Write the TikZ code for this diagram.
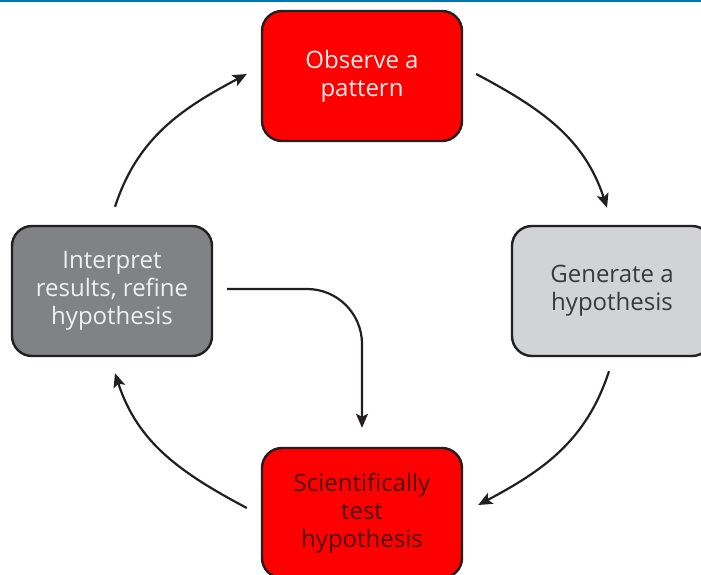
\documentclass[tikz,border=0pt]{standalone}
\usepackage{fontspec}
\setmainfont{Open Sans}
\usepackage{xcolor}
\usepackage{tikz}
\usetikzlibrary{arrows.meta,calc}
\definecolor{cyclered}{HTML}{FF0000}
\definecolor{cyclelight}{HTML}{D1D3D4}
\definecolor{cycledark}{HTML}{808285}
\definecolor{cycleline}{HTML}{231F20}
\definecolor{cycletextdark}{HTML}{3A3A3A}
\definecolor{cycletextred}{HTML}{4A1416}
\definecolor{cyclerule}{HTML}{0077A8}

\begin{document}
\begin{tikzpicture}[
  x=1pt, y=1pt,
  font=\fontsize{24}{28}\selectfont,
  stage/.style={draw=cycleline, line width=2.4pt, rounded corners=20pt, align=center,
                minimum width=200pt, minimum height=130pt, inner sep=0pt},
  redstage/.style={stage, fill=cyclered},
  lightstage/.style={stage, fill=cyclelight, text=cycletextdark},
  darkstage/.style={stage, fill=cycledark, text=white!94!black},
  arr/.style={-{Stealth[length=14pt, width=12pt, inset=3pt]}, line width=2.2pt, cycleline}
]
\useasboundingbox (0,0) rectangle (701,574);
% ----- top rule -----
\draw[cyclerule, line width=2.5pt] (0,573) -- (701,573);
% ----- the four stages -----
\node[redstage, text=white!94!black] (obs) at (362,498) {Observe a\\pattern};
\node[lightstage]                    (gen) at (612,283) {Generate a\\hypothesis};
\node[darkstage]                     (int) at (112,283) {Interpret\\results, refine\\hypothesis};
\node[redstage, text=cycletextred]   (sci) at (362,61)  {Scientifically\\test\\hypothesis};
% ----- cycle arrows -----
\draw[arr] ([xshift=13pt, yshift=2pt]obs.east) to[out=-28, in=108]
  ([xshift=-5pt, yshift=17pt]gen.north);
\draw[arr] ([xshift=-3pt, yshift=-14pt]gen.south) to[out=-108, in=28]
  ([xshift=15pt, yshift=8pt]sci.east);
\draw[arr] ([xshift=-14pt, yshift=5pt]sci.west) to[out=152, in=-72]
  ([xshift=3pt, yshift=-16pt]int.south);
\draw[arr] ([xshift=3pt, yshift=18pt]int.north) to[out=72, in=208]
  ([xshift=-14pt, yshift=2pt]obs.west);
% ----- shortcut: refine straight back into testing -----
\draw[arr, rounded corners=55pt] ([xshift=14pt, yshift=2pt]int.east) -| ([yshift=19pt]sci.north);
\end{tikzpicture}
\end{document}
